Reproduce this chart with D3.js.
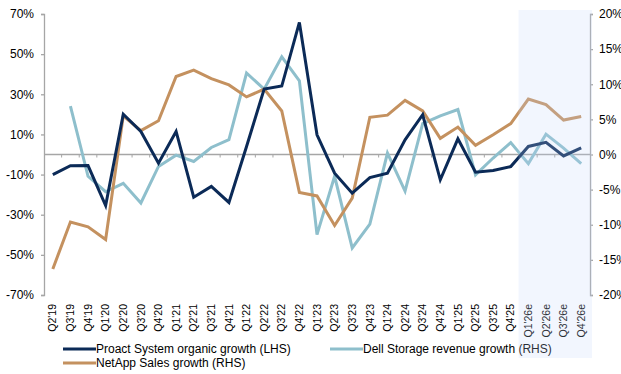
<!DOCTYPE html>
<html>
<head>
<meta charset="utf-8">
<script src="https://cdn.jsdelivr.net/npm/d3@7"></script>
<style>
  body { margin: 0; background: #fff; }
  svg { display: block; font-family: "Liberation Sans", Arial, sans-serif; }
</style>
</head>
<body>
<svg id="chart" width="621" height="374"></svg>
<script>
var quarters = ["Q2'19","Q3'19","Q4'19","Q1'20","Q2'20","Q3'20","Q4'20","Q1'21","Q2'21","Q3'21","Q4'21",
  "Q1'22","Q2'22","Q3'22","Q4'22","Q1'23","Q2'23","Q3'23","Q4'23","Q1'24","Q2'24","Q3'24","Q4'24",
  "Q1'25","Q2'25","Q3'25","Q4'25","Q1'26e","Q2'26e","Q3'26e","Q4'26e"];

// Proact, left axis (%)
var proact = [-10.0,-5.6,-5.5,-25.4,20.1,11.5,-4.3,11.5,-21.3,-15.9,-23.9,
  4.0,32.6,34.1,65.8,9.8,-9.3,-19.3,-11.5,-9.3,7.3,19.8,-12.6,
  7.8,-8.8,-8.0,-6.0,4.0,6.1,-0.7,3.3];

// Dell, right axis (%)
var dell = [null,6.9,-3.1,-5.3,-4.1,-6.9,-1.7,-0.1,-1.0,1.0,2.1,
  11.6,9.3,13.9,10.5,-11.4,-3.1,-13.3,-9.9,0.2,-5.2,4.4,5.5,
  6.4,-2.9,-0.5,1.7,-1.3,2.9,0.9,-1.3];

// NetApp, right axis (%)
var netapp = [-16.3,-9.6,-10.3,-12.1,5.5,3.4,4.8,11.1,12.0,10.8,9.9,
  8.2,9.3,6.2,-5.4,-5.9,-10.1,-6.2,5.3,5.6,7.7,6.2,2.3,
  3.9,1.3,2.8,4.4,7.9,7.1,4.9,5.4];

var leftTicks = [70,50,30,10,-10,-30,-50,-70];
var rightTicks = [20,15,10,5,0,-5,-10,-15,-20];
var estimateStart = "Q1'26e";

var CP = { proact: "#0b2a57", dell: "#8ebfcc", netapp: "#c4915f", axis: "#a6a6a6" };

var svg = d3.select("#chart");
var plot = { left: 44, right: 590, top: 14, bottom: 295 };

var x = d3.scaleBand().domain(quarters).range([plot.left, plot.right]).padding(0);
var cx = function(d) { return x(d) + x.bandwidth() / 2; };
var yL = d3.scaleLinear().domain([-70, 70]).range([plot.bottom, plot.top]);
var yR = d3.scaleLinear().domain([-20, 20]).range([plot.bottom, plot.top]);

// left axis
var axL = svg.append("g")
    .attr("transform", `translate(${plot.left},0)`)
    .call(d3.axisLeft(yL).tickValues(leftTicks).tickSize(3).tickPadding(7).tickFormat(d => d + "%"));

// right axis (labels run off the edge as in the source)
var axR = svg.append("g")
    .attr("transform", `translate(${plot.right},0)`)
    .call(d3.axisRight(yR).tickValues(rightTicks).tickSize(3).tickPadding(6).tickFormat(d => d + "%"));

[axL, axR].forEach(function(ax) {
  ax.select(".domain").attr("stroke", CP.axis).attr("stroke-width", 1.3);
  ax.selectAll(".tick line").attr("stroke", CP.axis).attr("stroke-width", 1.3);
  ax.selectAll(".tick text").attr("fill", "#000").style("font-size", "12px").style("font-family", "Liberation Sans, Arial");
});

// zero line with category ticks
var zeroY = yL(0);
svg.append("line")
    .attr("x1", plot.left).attr("x2", plot.right)
    .attr("y1", zeroY).attr("y2", zeroY)
    .attr("stroke", CP.axis).attr("stroke-width", 1.5);

svg.selectAll(".cat-tick")
    .data(quarters.slice(1))
    .enter()
    .append("line")
    .attr("class", "cat-tick")
    .attr("x1", d => x(d)).attr("x2", d => x(d))
    .attr("y1", zeroY).attr("y2", zeroY + 3)
    .attr("stroke", CP.axis).attr("stroke-width", 1);

// x labels, rotated
svg.selectAll(".xlab")
    .data(quarters)
    .enter()
    .append("text")
    .attr("class", "xlab")
    .attr("transform", d => `translate(${cx(d)},304) rotate(-90)`)
    .attr("dy", "0.35em")
    .attr("text-anchor", "end")
    .style("font-size", "10.5px")
    .attr("fill", "#000")
    .text(d => d);

function drawLine(values, yScale, color) {
  var line = d3.line()
      .defined(d => d[1] !== null)
      .x(d => cx(d[0]))
      .y(d => yScale(d[1]));
  svg.append("path")
      .datum(quarters.map((q, i) => [q, values[i]]))
      .attr("d", line)
      .attr("fill", "none")
      .attr("stroke", color)
      .attr("stroke-width", 3)
      .attr("stroke-linejoin", "miter");
}

drawLine(dell, yR, CP.dell);
drawLine(netapp, yR, CP.netapp);
drawLine(proact, yL, CP.proact);

// legend
var legend = [
  { name: "Proact System organic growth (LHS)", color: CP.proact, x: 63, y: 349 },
  { name: "Dell Storage revenue growth (RHS)", color: CP.dell, x: 330, y: 349 },
  { name: "NetApp Sales growth (RHS)", color: CP.netapp, x: 63, y: 363 }
];
var lg = svg.selectAll(".legend")
    .data(legend)
    .enter()
    .append("g")
    .attr("transform", d => `translate(${d.x},${d.y})`);
lg.append("line")
    .attr("x1", 0).attr("x2", 33)
    .attr("stroke", d => d.color).attr("stroke-width", 3);
lg.append("text")
    .attr("x", 33)
    .attr("dy", "0.35em")
    .style("font-size", "12px")
    .attr("fill", "#000")
    .text(d => d.name);

// estimate shading drawn on top
var x0 = x(estimateStart);
svg.append("rect")
    .attr("x", x0 - 1)
    .attr("y", 10)
    .attr("width", plot.right + 2 - (x0 - 1))
    .attr("height", 348)
    .attr("fill", "rgb(195,215,250)")
    .attr("fill-opacity", 0.22);
</script>
</body>
</html>
